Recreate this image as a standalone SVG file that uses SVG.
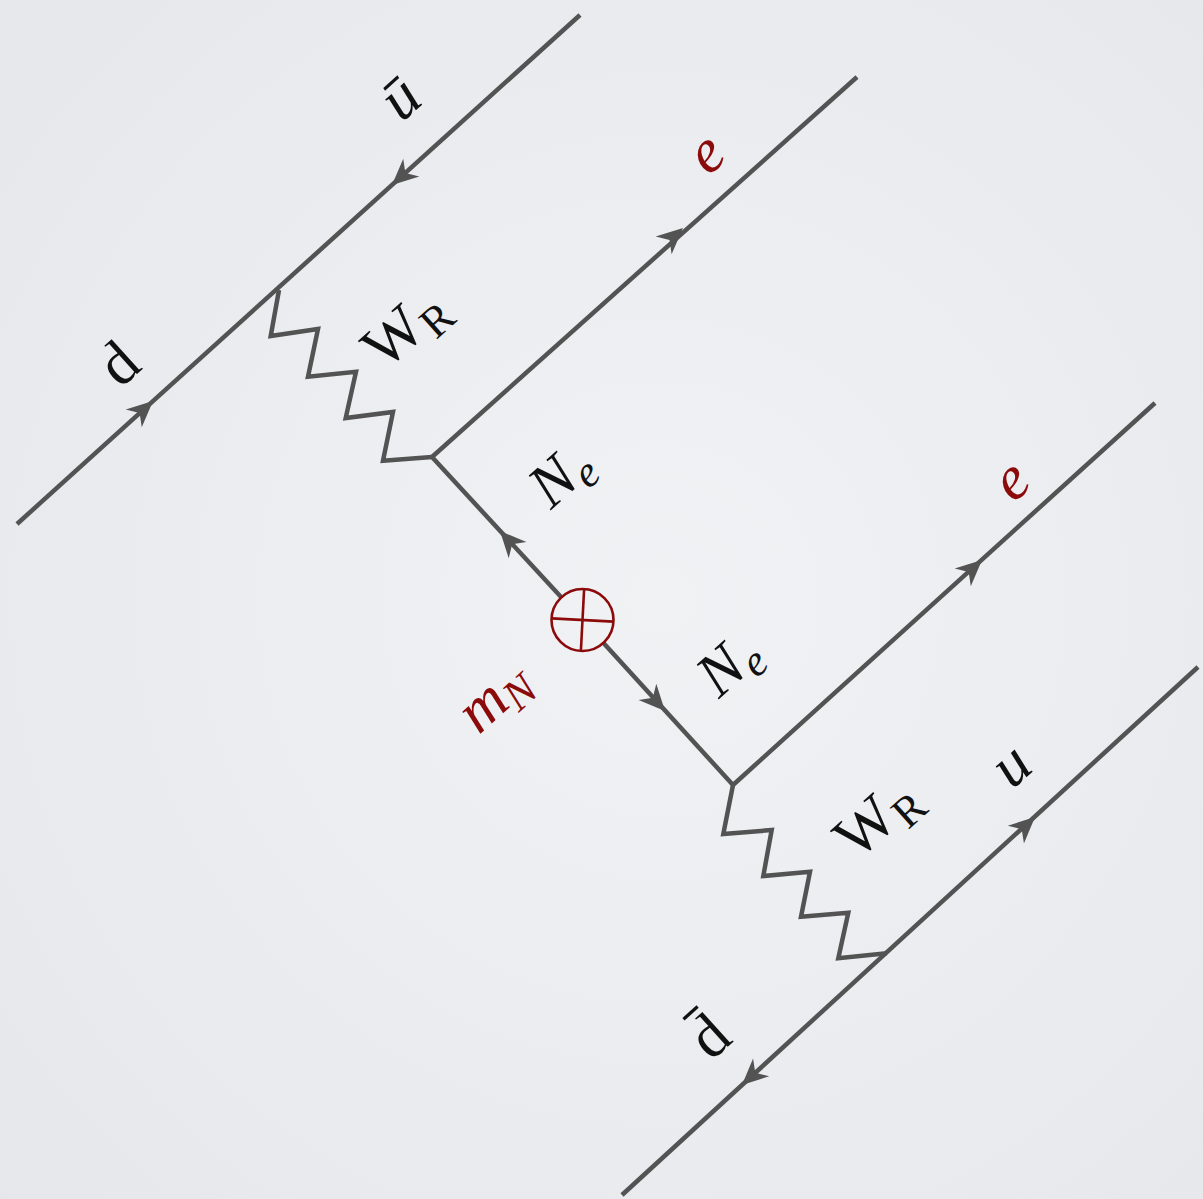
<svg xmlns="http://www.w3.org/2000/svg" width="1203" height="1199" viewBox="0 0 1203 1199">
<defs>
<radialGradient id="bg" cx="0.55" cy="0.5" r="0.75">
<stop offset="0" stop-color="#f1f2f4"/>
<stop offset="1" stop-color="#e5e7eb"/>
</radialGradient>
<path id="arr" d="M0,0 L-26,-12 L-18,0 L-26,12 Z"/>
<style>
.ln{stroke:#535353;stroke-width:4.5;fill:none;stroke-linejoin:miter;stroke-linecap:butt}
.ah{fill:#535353}
.lb{font-family:"Liberation Serif","Times New Roman",serif;font-size:62px;fill:#111;text-anchor:middle}
.it{font-style:italic}
.red{fill:#8b0a0a}
.sub{font-size:44px}
.vtx{stroke:#8b0a0a;stroke-width:2.6;fill:none}
</style>
</defs>
<rect width="1203" height="1199" fill="url(#bg)"/>
<g id="connectors">
<path class="ln" d="M17,524 L580,15"/>
<path class="ln" d="M432,457 L857,77"/>
<path class="ln" d="M733,785 L1155,403"/>
<path class="ln" d="M622,1195 L1198,667"/>
<path class="ln" d="M432,457 L561.5,597.5"/>
<path class="ln" d="M603.5,643 L733,785"/>
<path class="ln" d="M279,290 L270.7,336 L318,329 L308,376.7 L356,371.7 L345.7,418 L393,412 L383,460.7 L432,457"/>
<path class="ln" d="M733,785 L723.3,834 L771.7,830 L763.3,876 L810,871.7 L801,916.7 L848.3,912.7 L838.3,958.3 L886.7,953.3"/>
<use href="#arr" class="ah" transform="translate(153,401) rotate(-42.1)"/>
<use href="#arr" class="ah" transform="translate(392,185) rotate(137.9)"/>
<use href="#arr" class="ah" transform="translate(683,228) rotate(-41.8)"/>
<use href="#arr" class="ah" transform="translate(982,560) rotate(-42.2)"/>
<use href="#arr" class="ah" transform="translate(1035,817) rotate(-42.5)"/>
<use href="#arr" class="ah" transform="translate(742,1085) rotate(137.5)"/>
<use href="#arr" class="ah" transform="translate(500,531) rotate(-132.5)"/>
<use href="#arr" class="ah" transform="translate(665,711) rotate(47.5)"/>
</g>
<g id="mass-insertion">
<circle class="vtx" cx="582.5" cy="620" r="31"/>
<g transform="rotate(3 582.5 620)">
<line class="vtx" x1="551.5" y1="620" x2="613.5" y2="620"/>
<line class="vtx" x1="582.5" y1="589" x2="582.5" y2="651"/>
</g>
</g>
<g id="label-d" transform="translate(118,363) rotate(-42)"><text class="lb" y="21">d</text></g>
<g id="label-ubar" transform="translate(402,100) rotate(-42)"><text class="lb it" y="17">ū</text></g>
<g id="label-WR-top" transform="translate(407,330) rotate(-42)"><text class="lb" y="16">W<tspan class="sub" dy="11">R</tspan></text></g>
<g id="label-e-top" transform="translate(710,158) rotate(-42)"><text class="lb it red" y="13">e</text></g>
<g id="label-Ne-top" transform="translate(563,478) rotate(-42)"><text class="lb it" y="16">N<tspan class="sub" dy="10">e</tspan></text></g>
<g id="label-mN" transform="translate(497,700) rotate(-42)"><text class="lb it red" y="14">m<tspan class="sub" dy="10">N</tspan></text></g>
<g id="label-Ne-bot" transform="translate(731,667) rotate(-42)"><text class="lb it" y="16">N<tspan class="sub" dy="10">e</tspan></text></g>
<g id="label-e-bot" transform="translate(1015,485) rotate(-42)"><text class="lb it red" y="13">e</text></g>
<g id="label-WR-bot" transform="translate(879,820) rotate(-42)"><text class="lb" y="16">W<tspan class="sub" dy="11">R</tspan></text></g>
<g id="label-u" transform="translate(1015,770) rotate(-42)"><text class="lb it" y="13">u</text></g>
<g id="label-dbar" transform="translate(708,1035) rotate(-42)"><text class="lb" y="22">d̄</text></g>
</svg>
